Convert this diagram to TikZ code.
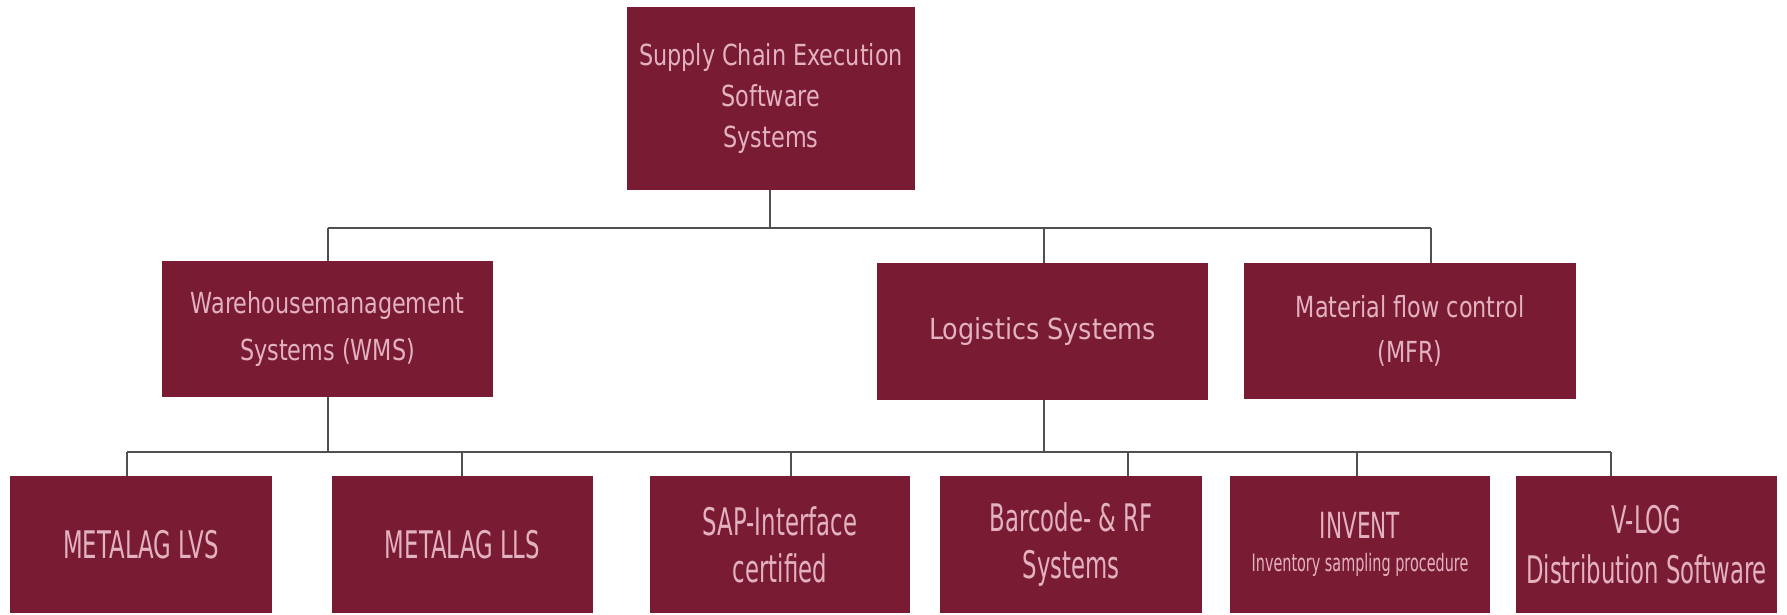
\documentclass[tikz,border=0pt]{standalone}
\usepackage{fontspec}
\newfontfamily\midfont[FakeStretch=0.77]{DejaVu Sans}
\newfontfamily\logfont[FakeStretch=0.88]{DejaVu Sans}
\newfontfamily\botfont[FakeStretch=0.6]{DejaVu Sans}
\definecolor{boxfill}{RGB}{122,27,52}
\definecolor{boxtext}{RGB}{226,178,192}
\definecolor{linecol}{RGB}{80,80,80}
\tikzset{
  box/.style={fill=boxfill, draw=none, inner sep=0pt, text=boxtext, align=center},
  midbox/.style={box, font=\midfont\fontsize{29}{41}\selectfont},
  botbox/.style={box, minimum height=137pt, font=\botfont\fontsize{38}{47}\selectfont},
  conn/.style={draw=linecol, line width=2.3pt}
}
\begin{document}
\begin{tikzpicture}[x=1pt, y=-1pt]
\useasboundingbox (0,0) rectangle (1787,614);
\fill[white] (0,0) rectangle (1787,614);

% top level
\node[midbox, minimum width=288pt, minimum height=183pt] (top) at (771,98.5)
  {Supply Chain Execution\\Software\\Systems};

% middle level
\node[midbox, minimum width=331pt, minimum height=136pt,
      font=\midfont\fontsize{29}{47}\selectfont] (wms) at (327.5,329)
  {Warehousemanagement\\Systems (WMS)};
\node[midbox, minimum width=331pt, minimum height=137pt,
      font=\logfont\fontsize{29}{41}\selectfont] (log) at (1042.5,331.5)
  {Logistics Systems};
\node[midbox, minimum width=332pt, minimum height=136pt,
      font=\midfont\fontsize{29}{45}\selectfont] (mfr) at (1410,331)
  {Material flow control\\(MFR)};

% bottom level
\node[botbox, minimum width=262pt] (lvs) at (141,544.5) {METALAG LVS};
\node[botbox, minimum width=261pt] (lls) at (462.5,544.5) {METALAG LLS};
\node[botbox, minimum width=260pt] (sap) at (780,544.5) {SAP-Interface\\certified};
\node[botbox, minimum width=262pt] (bar) at (1071,544.5) {Barcode- \& RF\\Systems};
\node[botbox, minimum width=260pt, font=\botfont\fontsize{24}{33}\selectfont] (inv) at (1360,544.5)
  {{\fontsize{36}{40}\selectfont INVENT}\\Inventory sampling procedure};
\node[botbox, minimum width=261pt, font=\botfont\fontsize{38}{50}\selectfont] (vlog) at (1646.5,544.5)
  {V-LOG\\Distribution Software};

% bus coordinates
\coordinate (tbus) at (770,228);
\coordinate (tl) at (328,228);
\coordinate (tm) at (1044,228);
\coordinate (tr) at (1431,228);
\coordinate (bl) at (127,452);
\coordinate (br) at (1611,452);
\coordinate (bw) at (328,452);
\coordinate (bg) at (1044,452);
\coordinate (d2) at (462,452);
\coordinate (d3) at (791,452);
\coordinate (d4) at (1128,452);
\coordinate (d5) at (1357,452);

% upper connectors
\draw[conn] (top.south -| tbus) -- (tbus);
\draw[conn] (tl) -- (tr);
\draw[conn] (tl) -- (tl |- wms.north);
\draw[conn] (tm) -- (tm |- log.north);
\draw[conn] (tr) -- (tr |- mfr.north);

% lower connectors
\draw[conn] (wms.south -| bw) -- (bw);
\draw[conn] (log.south -| bg) -- (bg);
\draw[conn] (bl) -- (br);
\draw[conn] (bl) -- (bl |- lvs.north);
\draw[conn] (d2) -- (d2 |- lls.north);
\draw[conn] (d3) -- (d3 |- sap.north);
\draw[conn] (d4) -- (d4 |- bar.north);
\draw[conn] (d5) -- (d5 |- inv.north);
\draw[conn] (br) -- (br |- vlog.north);
\end{tikzpicture}
\end{document}
